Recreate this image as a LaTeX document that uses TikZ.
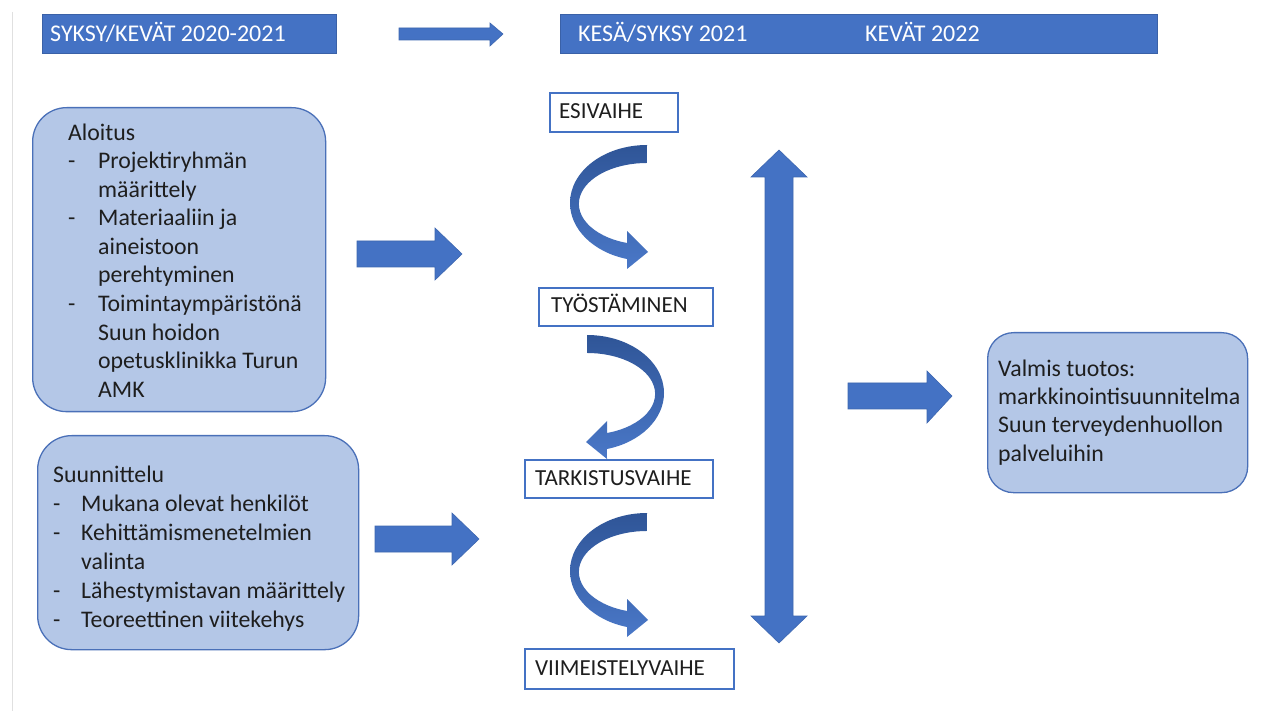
\documentclass[tikz,border=0pt]{standalone}
\usepackage{fontspec}
\setmainfont{Carlito}
\definecolor{hdr}{HTML}{4472C4}
\definecolor{lightbox}{HTML}{B4C7E7}
\definecolor{boxline}{HTML}{4A70B8}
\definecolor{arrdark}{HTML}{2F5597}
\definecolor{arrlight}{HTML}{4A78C8}
\definecolor{txt}{HTML}{1E1E1E}
\newcommand\dashA{\makebox[30pt][l]{-}}
\newcommand\dashB{\makebox[28pt][l]{-}}
\newcommand\indA{\hspace*{30pt}}
\newcommand\indB{\hspace*{28pt}}
\tikzset{
 hdrbar/.style={fill=hdr, draw=hdr!85!black, line width=0.8pt, inner sep=0pt, anchor=north west},
 hdrtext/.style={text=white, font=\fontsize{24}{28}\selectfont, anchor=base west, inner sep=0pt},
 roundbox/.style={fill=lightbox, draw=boxline, line width=1.3pt, inner sep=0pt, anchor=north west},
 boxtext/.style={text=txt, align=left, anchor=base west, inner sep=0pt},
 stagebox/.style={draw=hdr, line width=2pt, fill=white, inner sep=0pt, anchor=north west},
 stagetext/.style={text=txt, font=\fontsize{23}{27}\selectfont, anchor=base west, inner sep=0pt},
 blockarrow/.style={fill=hdr, draw=hdr!90!black, line width=0.6pt},
 curvearrow/.style={top color=arrdark, bottom color=arrlight, draw=none},
}
\newcommand\curvL[2]{\shade[curvearrow, shift={(#1,#2)}] (0,0) arc[start angle=270,end angle=105,x radius=77,y radius=58] -- (-20,124) -- (1,107) -- (-20,86) -- (-20,98) arc[start angle=107,end angle=270,x radius=68,y radius=40.9] -- cycle;}
\newcommand\curvR[2]{\shade[curvearrow, shift={(#1,#2)}] (0,0) arc[start angle=-90,end angle=75,x radius=77,y radius=58] -- (20,124) -- (-1,107) -- (20,86) -- (20,98) arc[start angle=73,end angle=-90,x radius=68,y radius=40.9] -- cycle;}
\begin{document}
\begin{tikzpicture}[x=1pt,y=-1pt]
\useasboundingbox[fill=white] (0,0) rectangle (1262,711);
\draw[black!12, line width=1pt] (12,12) -- (12,711);
% header
\node[hdrbar, minimum width=294pt, minimum height=39pt] (h1) at (42,14) {};
\node[hdrtext] (h1t) at (50,41.5) {SYKSY/KEVÄT 2020-2021};
\node[hdrbar, minimum width=597pt, minimum height=39pt] (h2) at (560,14) {};
\node[hdrtext] (h2t) at (578,41.5) {KESÄ/SYKSY 2021};
\node[hdrtext] (h2u) at (865,41.5) {KEVÄT 2022};
\fill[blockarrow] (399,28) -- (490,28) -- (490,23) -- (503,34) -- (490,46) -- (490,40) -- (399,40) -- cycle;
% left boxes
\node[roundbox, rounded corners=34pt, minimum width=293pt, minimum height=304pt] (alo) at (32,107) {};
\node[boxtext, font=\fontsize{23.8}{28.6}\selectfont] (alot) at (68,397.4) {Aloitus\\\dashA Projektiryhmän\\\indA määrittely\\\dashA Materiaaliin ja\\\indA aineistoon\\\indA perehtyminen\\\dashA Toimintaympäristönä\\\indA Suun hoidon\\\indA opetusklinikka Turun\\\indA AMK};
\node[roundbox, rounded corners=34pt, minimum width=321pt, minimum height=214pt] (suu) at (37,435) {};
\node[boxtext, font=\fontsize{23.8}{29}\selectfont] (suut) at (53,627) {Suunnittelu\\\dashB Mukana olevat henkilöt\\\dashB Kehittämismenetelmien\\\indB valinta\\\dashB Lähestymistavan määrittely\\\dashB Teoreettinen viitekehys};
% straight arrows
\fill[blockarrow] (357,241) -- (435,241) -- (435,228) -- (462,254) -- (435,280) -- (435,267) -- (357,267) -- cycle;
\fill[blockarrow] (375,526) -- (452,526) -- (452,513) -- (479,539) -- (452,565) -- (452,552) -- (375,552) -- cycle;
% stages
\node[stagebox, minimum width=128pt, minimum height=39pt] (esi) at (549,92) {};
\node[stagetext] (esit) at (559,118.5) {ESIVAIHE};
\node[stagebox, minimum width=174pt, minimum height=38pt] (tyo) at (538,287) {};
\node[stagetext] (tyot) at (551,313) {TYÖSTÄMINEN};
\node[stagebox, minimum width=188pt, minimum height=38pt] (tar) at (524,459) {};
\node[stagetext] (tart) at (535,485.5) {TARKISTUSVAIHE};
\node[stagebox, minimum width=209pt, minimum height=40pt] (vii) at (524,648) {};
\node[stagetext] (viit) at (535,675.5) {VIIMEISTELYVAIHE};
\curvL{647}{145}
\curvR{587}{335}
\curvL{647}{513}
% double arrow
\fill[blockarrow] (779,150) -- (807,177) -- (793,177) -- (793,616) -- (807,616) -- (779,643) -- (751,616) -- (765,616) -- (765,177) -- (751,177) -- cycle;
% right arrow and result
\fill[blockarrow] (848,383) -- (927,383) -- (927,371) -- (952,396) -- (927,423) -- (927,409) -- (848,409) -- cycle;
\node[roundbox, rounded corners=26pt, minimum width=260pt, minimum height=160pt] (val) at (987,332) {};
\node[boxtext, font=\fontsize{23.8}{28.4}\selectfont] (valt) at (998,461.2) {Valmis tuotos:\\markkinointisuunnitelma\\Suun terveydenhuollon\\palveluihin};
\end{tikzpicture}
\end{document}
